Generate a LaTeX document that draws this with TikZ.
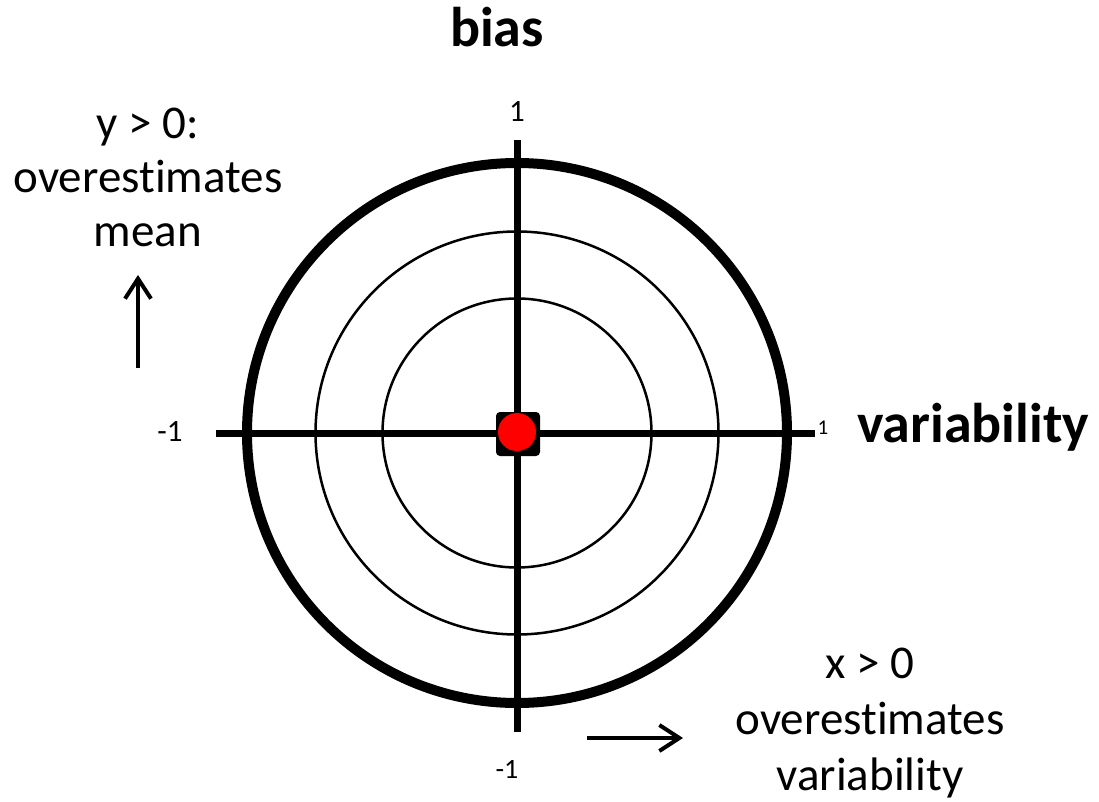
\documentclass[tikz,border=0pt]{standalone}
\usepackage{fontspec}
\setmainfont[Ligatures=NoCommon]{Carlito}
\usetikzlibrary{arrows.meta}
\begin{document}
\begin{tikzpicture}[x=1pt,y=-1pt,
  axis/.style={line width=7pt},
  ring/.style={line width=2.5pt},
  outerring/.style={line width=10pt},
  ticklbl/.style={font=\fontsize{31}{33}\selectfont, inner sep=0pt},
  lbl/.style={font=\fontsize{47}{54}\selectfont, align=center, inner sep=0pt},
  axtitle/.style={font=\fontsize{56}{60}\selectfont\bfseries, inner sep=0pt},
  hint/.style={line width=4pt, -{Straight Barb[length=20pt,width=26pt,line width=4pt]}}
]
\useasboundingbox (0,0) rectangle (1099,802);
\coordinate (c) at (517,433);
% rings
\draw[outerring] (c) circle[radius=270];
\draw[ring] (c) circle[radius=201.5];
\draw[ring] (c) circle[radius=134.5];
% axes
\coordinate (xl) at (216,433.5);
\coordinate (xr) at (815,433.5);
\coordinate (yt) at (517,140);
\coordinate (yb) at (517,732);
\draw[axis] (xl) -- (xr);
\draw[axis] (yt) -- (yb);
% centre marker
\node[fill=black, rounded corners=4pt, minimum size=44pt, inner sep=0pt] (sq) at (518,434) {};
\node[fill=red, circle, minimum size=38pt, inner sep=0pt] (dot) at (517,432) {};
% tick labels
\node[ticklbl, anchor=base] (ttop) at (517,122) {1};
\node[ticklbl, anchor=base] (tleft) at (170,441) {-1};
\node[ticklbl, anchor=base, font=\fontsize{21}{23}\selectfont] (tright) at (823,434) {1};
\node[ticklbl, anchor=base, font=\fontsize{28}{30}\selectfont] (tbot) at (507,778) {-1};
% axis titles
\node[axtitle, anchor=base] (bias) at (497,47) {bias};
\node[axtitle, anchor=base west] (var) at (857,442) {variability};
% explanations
\node[lbl, anchor=base] (ytxt) at (148,247) {y > 0:\\overestimates\\mean};
\node[lbl, anchor=base, font=\fontsize{47}{56}\selectfont] (xtxt) at (870,790) {x > 0\\overestimates\\variability};
% hint arrows
\coordinate (ua0) at (138,368);
\coordinate (ua1) at (138,275);
\draw[hint] (ua0) -- (ua1);
\coordinate (ra0) at (587,738);
\coordinate (ra1) at (683,738);
\draw[hint] (ra0) -- (ra1);
\end{tikzpicture}
\end{document}
